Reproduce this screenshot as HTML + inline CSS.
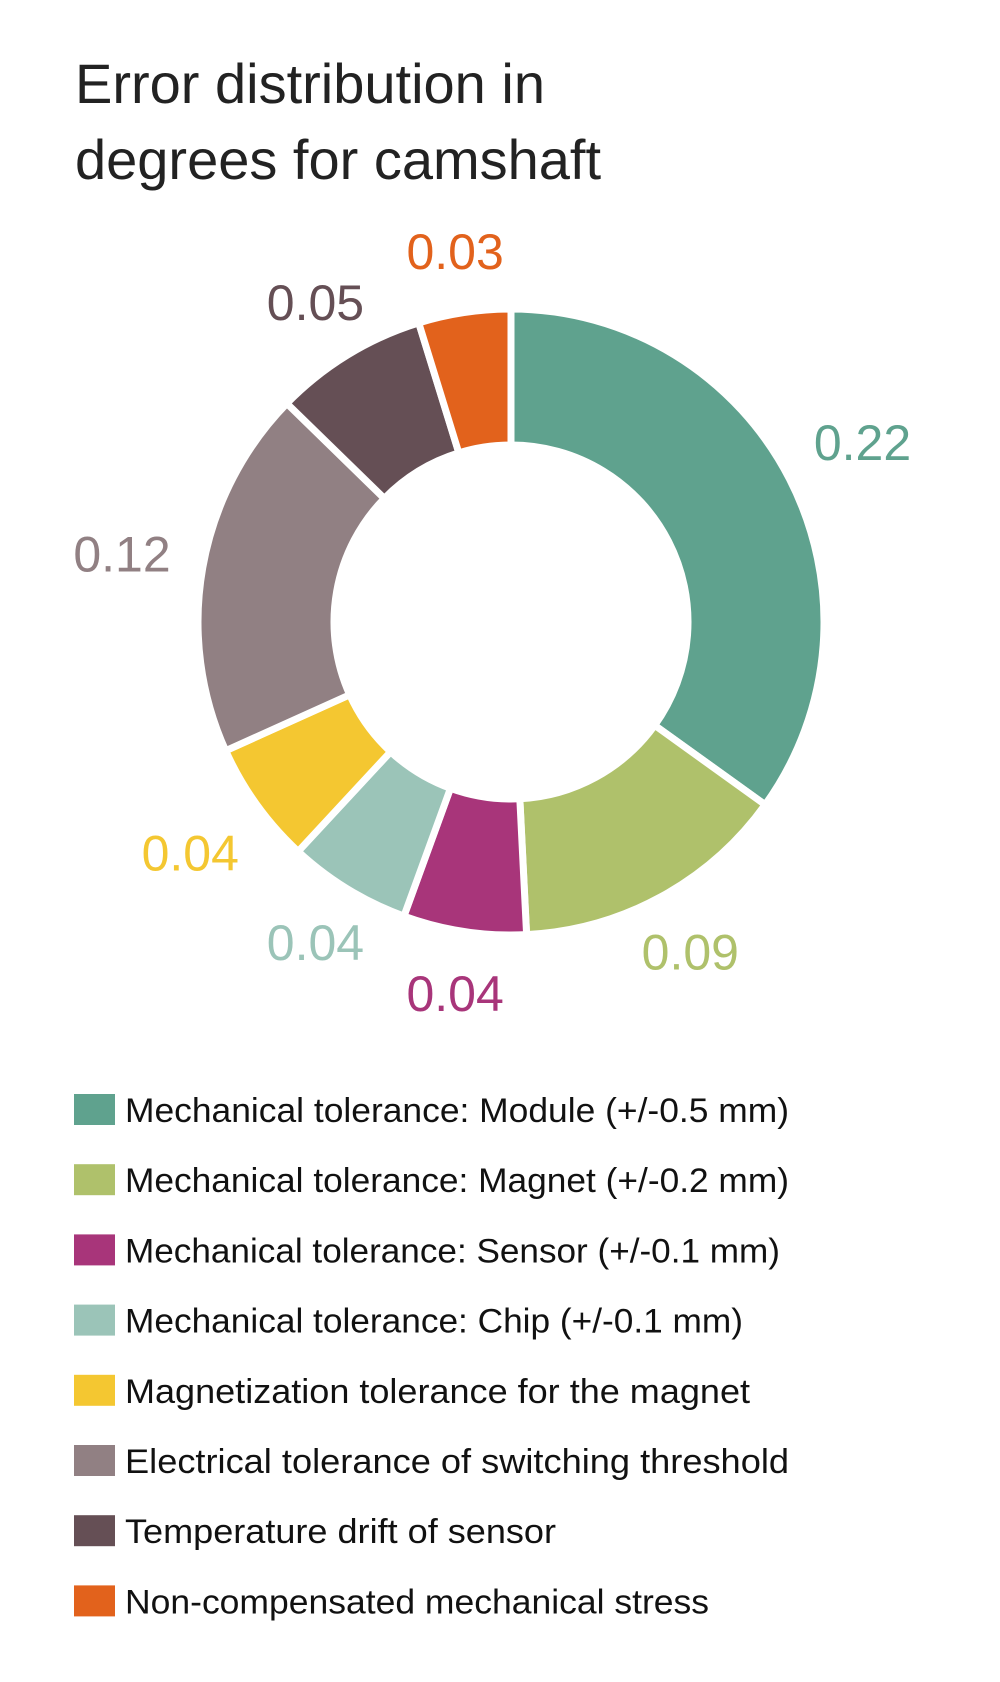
<!DOCTYPE html>
<html><head><meta charset="utf-8"><style>
html,body{margin:0;padding:0;background:#fff;}
svg{display:block;font-family:"Liberation Sans",sans-serif;}
</style></head><body>
<svg id="chart" width="1000" height="1682" viewBox="0 0 1000 1682" xmlns="http://www.w3.org/2000/svg">
<text x="75" y="103" font-size="56" fill="#222">Error distribution in</text>
<text x="75" y="179" font-size="56" fill="#222">degrees for camshaft</text>
<g id="slices"></g><g id="vlabels"></g><g id="legend"></g>
</svg>
<script>
const categories = ["Mechanical tolerance: Module (+/-0.5 mm)","Mechanical tolerance: Magnet (+/-0.2 mm)","Mechanical tolerance: Sensor (+/-0.1 mm)","Mechanical tolerance: Chip (+/-0.1 mm)","Magnetization tolerance for the magnet","Electrical tolerance of switching threshold","Temperature drift of sensor","Non-compensated mechanical stress"];
const values = [0.22,0.09,0.04,0.04,0.04,0.12,0.05,0.03];
const valueLabels = ["0.22","0.09","0.04","0.04","0.04","0.12","0.05","0.03"];
const colors = ["#5fa28e","#afc16b","#a8357a","#9bc4b8","#f4c731","#918083","#654f55","#e2621c"];
const legendWidths = [664,664,655,618,625,664,431,584];
const NS="http://www.w3.org/2000/svg";
const cx=511, cy=622, R=313, r=177, LR=375;
const total=values.reduce((a,b)=>a+b,0);
function angle(v){return v/total*2*Math.PI;}
function pt(a,rad){return [cx+rad*Math.sin(a), cy-rad*Math.cos(a)];}
const sg=document.getElementById('slices'), lg=document.getElementById('vlabels'), leg=document.getElementById('legend');
let a0=0;
values.forEach((v,i)=>{
  const a1=a0+angle(v);
  const large=(a1-a0)>Math.PI?1:0;
  const p1=pt(a0,R),p2=pt(a1,R),p3=pt(a1,r),p4=pt(a0,r);
  const p=document.createElementNS(NS,'path');
  p.setAttribute('d',`M${p1}A${R},${R} 0 ${large} 1 ${p2}L${p3}A${r},${r} 0 ${large} 0 ${p4}Z`);
  p.setAttribute('fill',colors[i]);
  p.setAttribute('stroke','#fff');
  p.setAttribute('stroke-width','7');
  
  
  sg.appendChild(p);
  const m=(a0+a1)/2;
  let lr=LR+ (Math.abs(Math.sin(m))>0.7?20:0);
  const lp=pt(m,lr);
  const t=document.createElementNS(NS,'text');
  t.setAttribute('x',lp[0]);t.setAttribute('y',lp[1]+18);
  t.setAttribute('text-anchor','middle');t.setAttribute('font-size','50');
  t.setAttribute('fill',colors[i]);
  t.textContent=valueLabels[i];
  
  
  lg.appendChild(t);
  const y=1094+i*70.2;
  const sq=document.createElementNS(NS,'rect');
  sq.setAttribute('x',74);sq.setAttribute('y',y);sq.setAttribute('width',41);sq.setAttribute('height',31);
  sq.setAttribute('fill',colors[i]);
  
  
  leg.appendChild(sq);
  const lt=document.createElementNS(NS,'text');
  lt.setAttribute('x',125);lt.setAttribute('y',y+28);lt.setAttribute('font-size','34');lt.setAttribute('fill','#111');
  lt.setAttribute('textLength',legendWidths[i]);lt.setAttribute('lengthAdjust','spacingAndGlyphs');
  lt.textContent=categories[i];
  
  
  leg.appendChild(lt);
  a0=a1;
});
</script>
</body></html>
